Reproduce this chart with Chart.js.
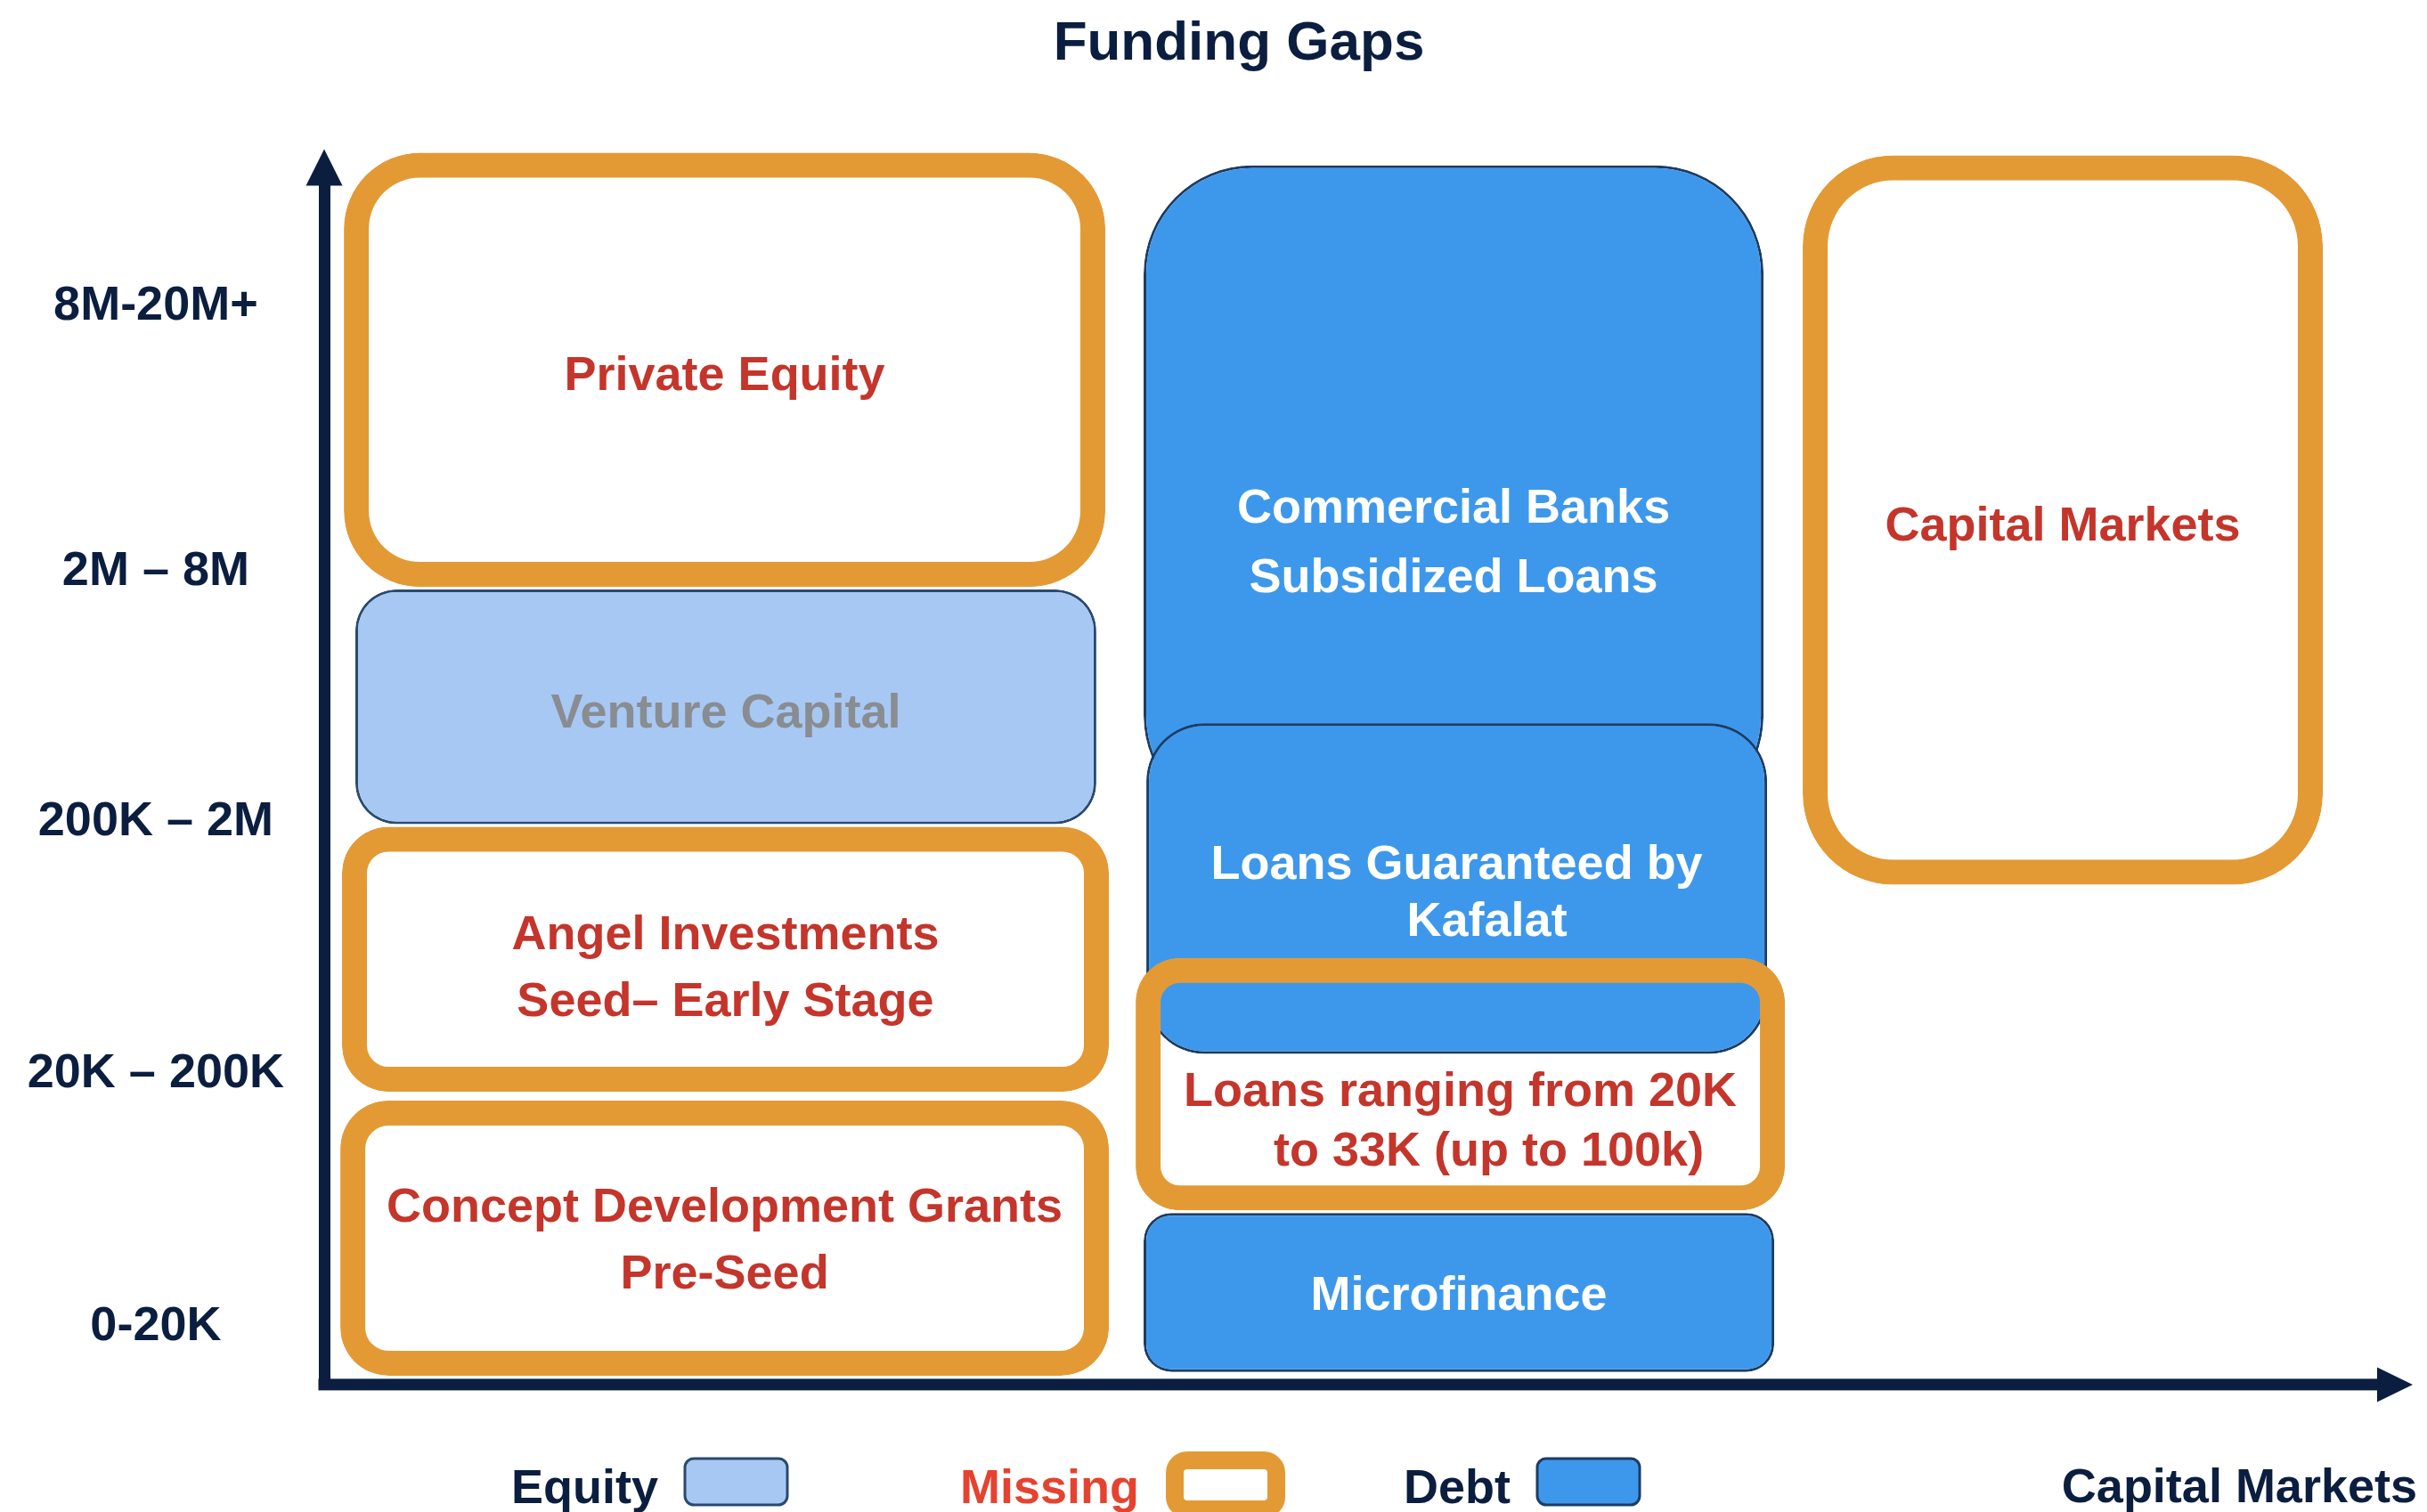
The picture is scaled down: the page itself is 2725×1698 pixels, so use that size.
<!DOCTYPE html>
<html>
<head>
<meta charset="utf-8">
<title>Funding Gaps</title>
<script src="https://cdn.jsdelivr.net/npm/chart.js@4.4.1/dist/chart.umd.min.js"></script>
<style>
  html, body { margin: 0; padding: 0; background: #fff; }
  #wrap { width: 2725px; height: 1698px; position: relative; }
</style>
</head>
<body>
<div id="wrap"><canvas id="gapsChart"></canvas></div>
<script>
// funding size levels (y axis)
const tickValues = [0.23, 1.23, 2.23, 3.22, 4.27];
const tickLabels = ['0-20K', '20K – 200K', '200K – 2M', '2M – 8M', '8M-20M+'];

// one box per funding source
const boxNames = ['Private Equity', 'Venture Capital', 'Angel Investments', 'Concept Development Grants',
  'Commercial Banks', 'Loans Guaranteed by Kafalat', 'Loans ranging from 20K', 'Microfinance', 'Capital Markets'];
const boxGroup = ['Missing', 'Equity', 'Missing', 'Missing', 'Debt', 'Debt', 'Missing', 'Debt', 'Missing'];
const boxX = [[0.94, 37.32], [1.49, 36.89], [0.85, 37.49], [0.77, 37.49],
  [39.15, 68.77], [39.28, 68.94], [38.77, 69.79], [39.15, 69.28], [70.64, 95.49]];
const boxY = [[3.16, 4.88], [2.22, 3.15], [1.16, 2.21], [0.035, 1.125],
  [2.22, 4.83], [1.31, 2.62], [0.69, 1.69], [0.05, 0.68], [1.98, 4.87]];
const boxLines = [
  ['Private Equity'],
  ['Venture Capital'],
  ['Angel Investments', 'Seed– Early Stage'],
  ['Concept Development Grants', 'Pre-Seed'],
  ['Commercial Banks', 'Subsidized Loans'],
  ['Loans Guaranteed by', 'Kafalat'],
  ['Loans ranging from 20K', 'to 33K (up to 100k)'],
  ['Microfinance'],
  ['Capital Markets']
];
const legendGroups = ['Equity', 'Missing', 'Debt'];

// styles
const NAVY = '#0B1E3F';
const FONT = '"Liberation Sans", Arial, sans-serif';
const groupStyle = {
  Equity:  { fill: '#A7C8F3', stroke: '#2A4A70', width: 3,  text: '#898C91', legendText: NAVY },
  Missing: { fill: 'rgba(255,255,255,0)', stroke: '#E39A35', width: 28, text: '#C4352B', legendText: '#E5432F' },
  Debt:    { fill: '#3D98EC', stroke: '#1E3C62', width: 3,  text: '#FFFFFF', legendText: NAVY }
};
const labelTweak = {
  'Angel Investments': { dy: 11 },
  'Concept Development Grants': { dy: 4 },
  'Commercial Banks': { dy: 55, lh: 78 },
  'Loans Guaranteed by Kafalat': { dy: 6.5, lh: 64, dx: [0, 34] },
  'Loans ranging from 20K': { dy: 43, lh: 67, dx: [0, 32] },
  'Microfinance': { dy: 5 }
};
const legendLayout = { x: [574, 1078, 1576], gap: 30, baseline: 1688 };

Chart.defaults.font.family = FONT;

function boxRadius(chart, i) {
  const xs = chart.scales.x, ys = chart.scales.y;
  if (!xs || !ys) return 0;
  const w = Math.abs(xs.getPixelForValue(boxX[i][1]) - xs.getPixelForValue(boxX[i][0]));
  const h = Math.abs(ys.getPixelForValue(boxY[i][1]) - ys.getPixelForValue(boxY[i][0]));
  return 0.175 * Math.min(w, h);
}

// bars get their horizontal span from the x scale too
const boxSpan = {
  id: 'boxSpan',
  afterLayout(chart) {
    // the title sits a little right of the canvas centre
    if (chart.titleBlock) chart.titleBlock.left = 68;
  },
  afterDatasetsUpdate(chart) {
    const xs = chart.scales.x;
    chart.data.datasets.forEach((ds, i) => {
      chart.getDatasetMeta(i).data.forEach(el => {
        const a = xs.getPixelForValue(boxX[i][0]);
        const b = xs.getPixelForValue(boxX[i][1]);
        el.x = (a + b) / 2;
        el.width = b - a;
      });
    });
  },
  afterDatasetsDraw(chart) {
    const ctx = chart.ctx;
    ctx.save();
    ctx.font = 'bold 54px ' + FONT;
    ctx.textAlign = 'center';
    ctx.textBaseline = 'middle';
    chart.data.datasets.forEach((ds, i) => {
      const el = chart.getDatasetMeta(i).data[0];
      const tw = labelTweak[boxNames[i]] || {};
      const lh = tw.lh || 75;
      const cy = (el.y + el.base) / 2 + (tw.dy !== undefined ? tw.dy : 8);
      const lines = boxLines[i];
      ctx.fillStyle = groupStyle[boxGroup[i]].text;
      lines.forEach((t, k) => {
        const dx = tw.dx ? tw.dx[k] : 0;
        ctx.fillText(t, el.x + dx, cy + (k - (lines.length - 1) / 2) * lh);
      });
    });
    ctx.restore();
  }
};

// arrow heads, x axis line and the legend
const axesAndLegend = {
  id: 'axesAndLegend',
  afterDraw(chart) {
    const ctx = chart.ctx;
    const a = chart.chartArea;
    ctx.save();
    ctx.fillStyle = NAVY;
    // y arrow
    ctx.beginPath();
    ctx.moveTo(a.left - 20.5, a.top);
    ctx.lineTo(a.left + 20.5, a.top);
    ctx.lineTo(a.left, a.top - 41);
    ctx.closePath();
    ctx.fill();
    // x axis line + arrow
    const xEnd = a.right - 45;
    ctx.fillRect(a.left - 6.5, a.bottom - 6.5, xEnd - a.left + 6.5, 13);
    ctx.beginPath();
    ctx.moveTo(xEnd, a.bottom - 19.5);
    ctx.lineTo(xEnd, a.bottom + 19.5);
    ctx.lineTo(a.right - 5, a.bottom);
    ctx.closePath();
    ctx.fill();

    // legend
    ctx.font = 'bold 54px ' + FONT;
    ctx.textAlign = 'left';
    ctx.textBaseline = 'alphabetic';
    legendGroups.forEach((g, k) => {
      const st = groupStyle[g];
      const x = legendLayout.x[k];
      ctx.fillStyle = st.legendText;
      ctx.fillText(g, x, legendLayout.baseline);
      const sx = x + ctx.measureText(g).width + legendLayout.gap;
      if (g === 'Missing') {
        ctx.beginPath();
        ctx.roundRect(sx + 10, 1640, 114, 55, 14);
        ctx.strokeStyle = st.stroke;
        ctx.lineWidth = 20;
        ctx.stroke();
      } else {
        ctx.beginPath();
        ctx.roundRect(sx, 1638, 115, 52, 10);
        ctx.fillStyle = st.fill;
        ctx.fill();
        ctx.strokeStyle = st.stroke;
        ctx.lineWidth = 3;
        ctx.stroke();
      }
    });
    ctx.restore();
  }
};

const ctx = document.getElementById('gapsChart').getContext('2d');
const gapsChart = new Chart(ctx, {
  type: 'bar',
  data: {
    datasets: boxNames.map((name, i) => {
      const st = groupStyle[boxGroup[i]];
      return {
        label: name,
        data: [{ x: (boxX[i][0] + boxX[i][1]) / 2, y: boxY[i] }],
        backgroundColor: st.fill,
        borderColor: st.stroke,
        borderWidth: st.width,
        borderRadius: (c) => boxRadius(c.chart, i),
        borderSkipped: false,
        inflateAmount: 0,
        grouped: false,
        clip: false,
        order: boxNames.length - i
      };
    })
  },
  options: {
    responsive: true,
    maintainAspectRatio: false,
    animation: false,
    events: [],
    layout: { padding: { left: 0, right: 11, top: 0, bottom: 0 } },
    scales: {
      x: {
        type: 'linear',
        min: 0,
        max: 100,
        offset: false,
        grid: { display: false, drawTicks: false },
        border: { display: false },
        ticks: { display: false },
        title: {
          display: true,
          text: 'Capital Markets',
          align: 'end',
          color: NAVY,
          font: { size: 54, weight: 'bold', lineHeight: 0.9 },
          padding: { top: 93, bottom: 1.5 }
        }
      },
      y: {
        min: 0,
        max: 4.75,
        grid: { display: false, drawTicks: false },
        border: { display: true, color: NAVY, width: 13 },
        afterBuildTicks: (axis) => { axis.ticks = tickValues.map(v => ({ value: v })); },
        afterFit: (axis) => { axis.width = 364; },
        ticks: {
          autoSkip: false,
          crossAlign: 'center',
          padding: 45,
          color: NAVY,
          font: { size: 54, weight: 'bold' },
          callback: (v) => tickLabels[tickValues.indexOf(v)]
        }
      }
    },
    plugins: {
      legend: { display: false },
      tooltip: { enabled: false },
      title: {
        display: true,
        text: 'Funding Gaps',
        color: NAVY,
        font: { size: 62, weight: 'bold', lineHeight: 1.2 },
        padding: { top: 13, bottom: 121 }
      }
    }
  },
  plugins: [boxSpan, axesAndLegend]
});
</script>
</body>
</html>
